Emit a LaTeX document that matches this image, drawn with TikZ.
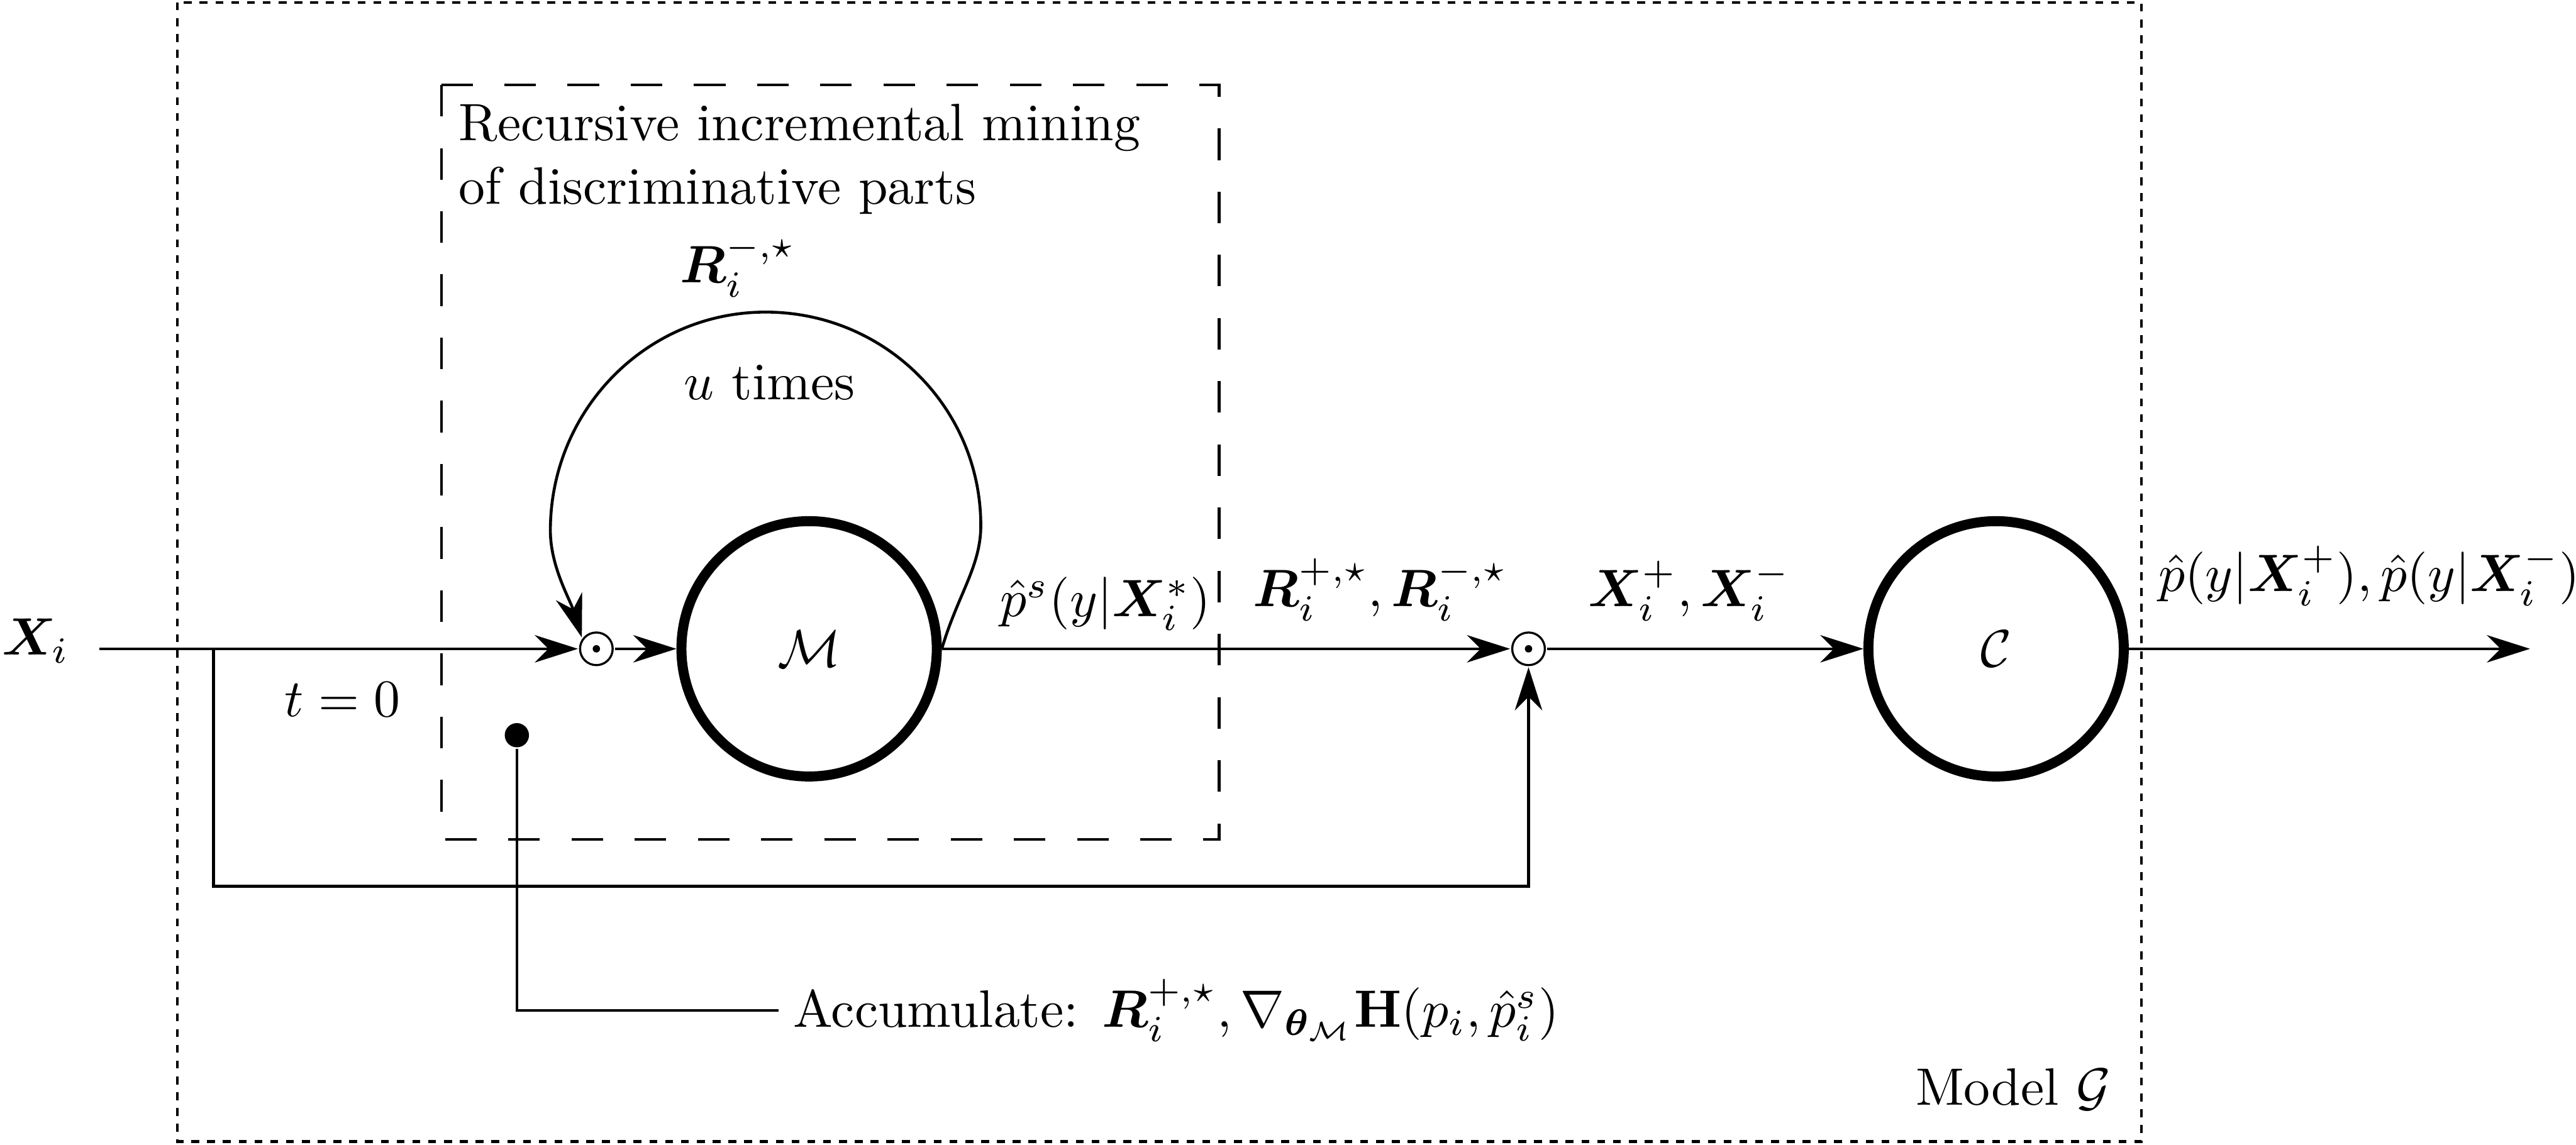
\documentclass[tikz,border=0pt]{standalone}
\usepackage{amsmath,bm}
\usetikzlibrary{arrows.meta}
\begin{document}
\begin{tikzpicture}[x=0.312pt,y=-0.312pt, line width=0.55pt,
  arr/.style={-{Stealth[length=8.2pt,width=5.2pt,inset=2.6pt]}},
  bigcirc/.style={circle,draw,line width=1.9pt,minimum size=48.5pt,inner sep=0pt},
  odotn/.style={circle,draw,line width=0.4pt,minimum size=6.2pt,inner sep=0pt,outer sep=0.4pt,
    path picture={\fill (path picture bounding box.center) circle (0.7pt);}},
  lbl/.style={inner sep=0pt},
  outerbox/.style={dash pattern=on 1.5pt off 1.5pt},
  innerbox/.style={dash pattern=on 6pt off 6pt}]
\useasboundingbox (0,0) rectangle (1568,697);
% boxes
\draw[outerbox] (108,1.5) rectangle (1303.5,695);
\draw[innerbox] (268.7,51.7) rectangle (742,511);
% main nodes
\node[bigcirc] (M) at (492.5,395) {$\mathcal{M}$};
\node[bigcirc] (C) at (1215,395) {$\mathcal{C}$};
\node[odotn] (o1) at (363,395) {};
\node[odotn] (o2) at (930.4,395) {};
\node[circle,fill,minimum size=4.6pt,inner sep=0pt] (dot) at (314.6,447.6) {};
\coordinate (xin) at (60.6,395);
\coordinate (br) at (130,395);
\coordinate (brb) at (130,539.5);
\coordinate (out) at (1540,395);
% labels
\node[lbl,anchor=base west] (xi) at (0.5,398.7) {$\bm{X}_i$};
\node[lbl,anchor=north west,align=left] (title) at (278.4,62.6) {Recursive incremental mining\\of discriminative parts};
\node[lbl,anchor=base west] (rloop) at (413,172) {$\bm{R}_i^{-,\star}$};
\node[lbl,anchor=base west] (ut) at (415.5,243.2) {$u$ times};
\node[lbl,anchor=base] (t0) at (208.4,436.2) {$t=0$};
\node[lbl,anchor=base] (ps) at (673,375.5) {$\hat{p}^s(y|\bm{X}_i^*)$};
\node[lbl,anchor=base west] (rr) at (761.8,369.2) {$\bm{R}_i^{+,\star},\bm{R}_i^{-,\star}$};
\node[lbl,anchor=base west] (xx) at (966,369.2) {$\bm{X}_i^+,\bm{X}_i^-$};
\node[lbl,anchor=base west] (pout) at (1313,360) {$\hat{p}(y|\bm{X}_i^+),\hat{p}(y|\bm{X}_i^-)$};
\node[lbl,anchor=base] (mg) at (1225.5,672.8) {Model $\mathcal{G}$};
\node[anchor=base west,inner sep=2.5pt] (acc) at (474,625.3) {Accumulate: $\bm{R}_i^{+,\star},\nabla_{\bm{\theta}_{\mathcal{M}}}\mathbf{H}(p_i,\hat{p}_i^s)$};
% connectors
\draw[arr] (xin) -- (o1);
\draw[arr] (br) -- (brb) -| (o2);
\draw[arr] (o1) -- (M);
\draw[arr] (M) -- (o2);
\draw[arr] (o2) -- (C);
\draw[arr] (C) -- (out);
\draw[arr] (M.east) .. controls (583,362) and (597,345) .. (597,320)
  .. controls (597,248) and (538.4,190) .. (466,190)
  .. controls (393.6,190) and (335,249.5) .. (335,323)
  .. controls (335,345) and (347,365) .. (o1.142);
\draw (dot) |- (acc.west);
\end{tikzpicture}
\end{document}
